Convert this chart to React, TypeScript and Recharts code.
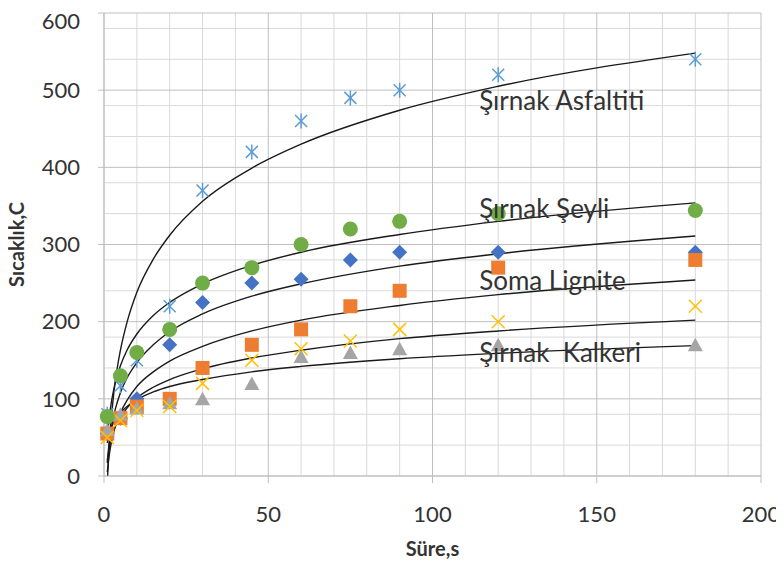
import { ComposedChart, Scatter, Line, XAxis, YAxis, CartesianGrid, ReferenceDot, Label } from 'recharts'

// time (s) of each measurement
const sure = [1, 5, 10, 20, 30, 45, 60, 75, 90, 120, 180]

// measured temperatures, one list per sample (marker order = drawing order)
const mavi = [55, 75, 100, 170, 225, 250, 255, 280, 290, 290, 290]
const soma = [55, 75, 90, 100, 140, 170, 190, 220, 240, 270, 280]
const kalkeri = [60, 80, 88, 95, 100, 120, 155, 160, 165, 170, 170]
const sari = [50, 72, 85, 90, 120, 150, 165, 175, 190, 200, 220]
const asfaltiti = [80, 117, 150, 220, 370, 420, 460, 490, 500, 520, 540]
const seyli = [77, 130, 160, 190, 250, 270, 300, 320, 330, 340, 344]

// trend curves
const trendX = [1, 1.5, 2, 3, 4, 5, 7, 10, 15, 20, 30, 45, 60, 90, 120, 180]
const asfaltitiTrend = [-10, 34, 64, 108, 139, 163, 199, 238, 281, 312, 356, 399, 430, 474, 505, 548]
const seyliTrend = [48, 72, 89, 113, 130, 143, 163, 184, 208, 225, 249, 273, 290, 313, 330, 354]
const maviTrend = [17, 40, 56, 79, 95, 108, 127, 147, 170, 187, 210, 233, 249, 272, 288, 311]
const somaTrend = [5, 24, 38, 58, 72, 82, 98, 116, 135, 149, 168, 188, 202, 221, 235, 254]
const sariTrend = [20, 34, 44, 59, 69, 76, 88, 101, 115, 125, 139, 153, 163, 178, 188, 202]
const kalkeriTrend = [43, 53, 60, 70, 77, 82, 90, 99, 109, 116, 125, 135, 142, 152, 159, 169]

const xTicks = [0, 50, 100, 150, 200]
const yTicks = [0, 100, 200, 300, 400, 500, 600]
const xMinor = [10, 20, 30, 40, 60, 70, 80, 90, 110, 120, 130, 140, 160, 170, 180, 190]
const yMinor = [20, 40, 60, 80, 120, 140, 160, 180, 220, 240, 260, 280, 320, 340, 360, 380, 420, 440, 460, 480, 520, 540, 560, 580]

const notes = [
  { text: 'Şırnak Asfaltiti', x: 114.5, y: 487 },
  { text: 'Şırnak Şeyli', x: 114.5, y: 347 },
  { text: 'Soma Lignite', x: 114.5, y: 254 },
  { text: 'Şırnak  Kalkeri', x: 114.5, y: 161 },
]

const toPoints = (xs: number[], ys: number[]) => xs.map((x, i) => ({ x, y: ys[i] }))

const FONT = 'Lato, "Open Sans", sans-serif'
const TEXT = '#333'

const Diamond = ({ cx, cy }: any) => (
  <polygon points={`${cx},${cy - 7.5} ${cx + 7.5},${cy} ${cx},${cy + 7.5} ${cx - 7.5},${cy}`} fill="#4472C4" />
)
const Square = ({ cx, cy }: any) => <rect x={cx - 7} y={cy - 7} width={14} height={14} fill="#ED7D31" />
const Triangle = ({ cx, cy }: any) => (
  <polygon points={`${cx},${cy - 7} ${cx + 7.5},${cy + 6.5} ${cx - 7.5},${cy + 6.5}`} fill="#A5A5A5" />
)
const Cross = ({ cx, cy }: any) => (
  <g stroke="#FFC000" strokeWidth={1.5}>
    <line x1={cx - 6.5} y1={cy - 6.5} x2={cx + 6.5} y2={cy + 6.5} />
    <line x1={cx - 6.5} y1={cy + 6.5} x2={cx + 6.5} y2={cy - 6.5} />
  </g>
)
const Star = ({ cx, cy }: any) => (
  <g stroke="#5B9BD5" strokeWidth={1.5}>
    <line x1={cx - 6} y1={cy - 6} x2={cx + 6} y2={cy + 6} />
    <line x1={cx - 6} y1={cy + 6} x2={cx + 6} y2={cy - 6} />
    <line x1={cx} y1={cy - 7.5} x2={cx} y2={cy + 7.5} />
  </g>
)
const Dot = ({ cx, cy }: any) => <circle cx={cx} cy={cy} r={7.5} fill="#70AD47" />

const trends = [asfaltitiTrend, seyliTrend, maviTrend, somaTrend, sariTrend, kalkeriTrend]

export default function App() {
  return (
    <div style={{ width: 776, height: 559, fontFamily: FONT }}>
      <style>{'.recharts-surface { overflow: visible; }'}</style>
      <ComposedChart width={776} height={559} margin={{ top: 5, right: 23, left: 0, bottom: 1 }}>
        <CartesianGrid stroke="#D9D9D9" horizontalValues={yMinor} verticalValues={xMinor} />
        <CartesianGrid stroke="#BFBFBF" horizontalValues={yTicks} verticalValues={xTicks} />
        <XAxis
          type="number"
          dataKey="x"
          domain={[0, 200]}
          ticks={xTicks}
          height={90}
          stroke="#BFBFBF"
          tickSize={7}
          tickMargin={23}
          tick={{ fontSize: 22, fill: TEXT, fontFamily: FONT }}
        >
          <Label value="Süre,s" position="insideBottom" offset={10} style={{ fontSize: 20, fontWeight: 700, fill: TEXT, fontFamily: FONT }} />
        </XAxis>
        <YAxis
          type="number"
          dataKey="y"
          domain={[0, 600]}
          ticks={yTicks}
          allowDataOverflow
          width={96}
          stroke="#BFBFBF"
          tickSize={6}
          tickMargin={18}
          tick={{ fontSize: 22, fill: TEXT, fontFamily: FONT }}
        >
          <Label
            content={({ viewBox }: any) => (
              <text
                x={viewBox.x + 16}
                y={viewBox.y + viewBox.height / 2}
                transform={`rotate(-90 ${viewBox.x + 16} ${viewBox.y + viewBox.height / 2})`}
                textAnchor="middle"
                fontSize={20}
                fontWeight={700}
                fill={TEXT}
                fontFamily={FONT}
              >
                Sıcaklık,C
              </text>
            )}
          />
        </YAxis>
        <Scatter data={toPoints(sure, mavi)} dataKey="y" shape={Diamond} isAnimationActive={false} />
        <Scatter data={toPoints(sure, soma)} dataKey="y" shape={Square} isAnimationActive={false} />
        <Scatter data={toPoints(sure, kalkeri)} dataKey="y" shape={Triangle} isAnimationActive={false} />
        <Scatter data={toPoints(sure, sari)} dataKey="y" shape={Cross} isAnimationActive={false} />
        <Scatter data={toPoints(sure, asfaltiti)} dataKey="y" shape={Star} isAnimationActive={false} />
        <Scatter data={toPoints(sure, seyli)} dataKey="y" shape={Dot} isAnimationActive={false} />
        {trends.map((t, i) => (
          <Line
            key={i}
            data={toPoints(trendX, t)}
            dataKey="y"
            type="monotone"
            stroke="#1a1a1a"
            strokeWidth={1.4}
            dot={false}
            activeDot={false}
            isAnimationActive={false}
          />
        ))}
        {notes.map((n) => (
          <ReferenceDot
            key={n.text}
            x={n.x}
            y={n.y}
            r={1}
            fill="none"
            stroke="none"
            label={{
              content: ({ viewBox }: any) => (
                <text
                  x={viewBox.x}
                  y={viewBox.y + viewBox.height / 2}
                  dominantBaseline="central"
                  fontSize={26}
                  fill={TEXT}
                  fontFamily={FONT}
                  style={{ whiteSpace: 'pre' }}
                >
                  {n.text}
                </text>
              ),
            }}
          />
        ))}
      </ComposedChart>
    </div>
  )
}
